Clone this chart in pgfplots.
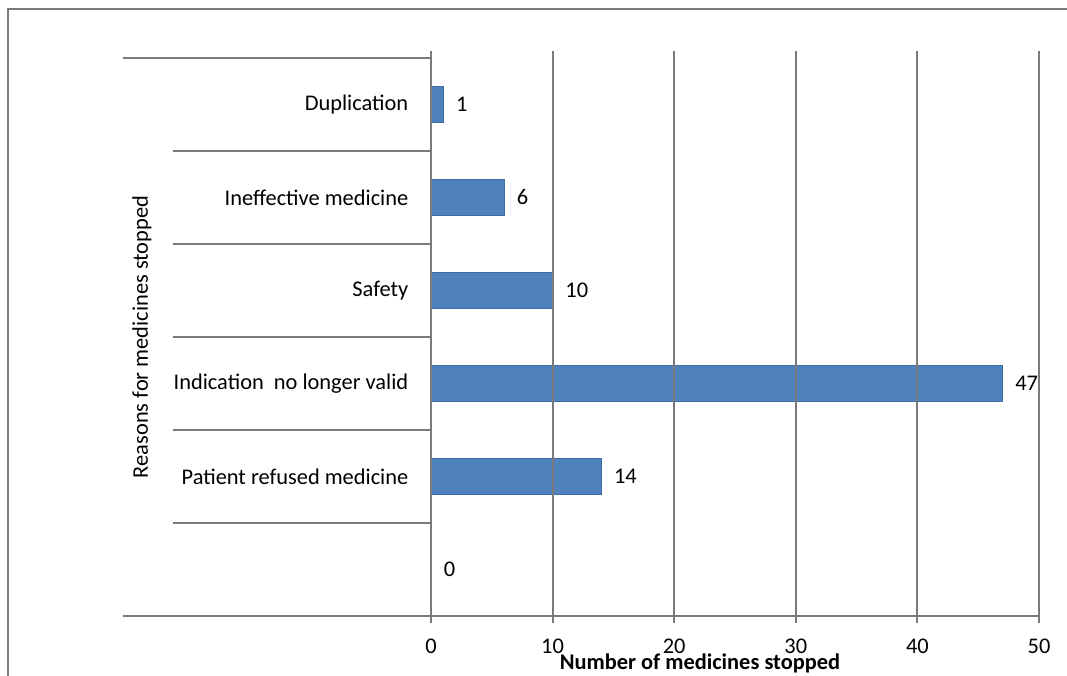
\documentclass[border=0pt]{standalone}
\usepackage{pgfplots}
\pgfplotsset{compat=1.18}
\usepackage{fontspec}
\setmainfont{Carlito}
\definecolor{barblue}{HTML}{4F81BD}
\definecolor{baredge}{HTML}{3C6DA6}
\definecolor{gridgray}{HTML}{7A7A7A}
\begin{document}
\begin{tikzpicture}
\path[use as bounding box] (0,0) rectangle (800.25pt,506.25pt);
\draw[gridgray, line width=1.5pt] (6pt,-1pt) -- (6pt,499.5pt) -- (801pt,499.5pt);
\begin{axis}[
  at={(323.25pt,44.25pt)}, anchor=south west,
  scale only axis, width=456pt, height=418.5pt,
  xbar, bar width=0.39,
  xmin=0, xmax=50, ymin=-0.5, ymax=5.5,
  xtick={0,10,20,30,40,50},
  ytick={0,1,2,3,4,5},
  yticklabels={{},Patient refused medicine,Indication\ \ no longer valid,Safety,Ineffective medicine,Duplication},
  axis line style={draw=none},
  xmajorgrids, grid style={gridgray, line width=1.5pt},
  xtick style={gridgray, line width=1.5pt},
  xtick align=outside, major tick length=5.5pt,
  y tick style={draw=none},
  axis on top,
  clip=false,
  font=\fontsize{16.8}{19}\selectfont,
  /pgf/number format/assume math mode=true,
  xticklabel style={yshift=-8pt},
  yticklabel style={xshift=-8pt},
  nodes near coords,
  every node near coord/.append style={xshift=6pt, black},
  xlabel={\textbf{Number of medicines stopped}},
  xlabel style={at={(axis description cs:0.4424,-0.0845)}, anchor=center},
  ylabel={Reasons for medicines stopped},
  ylabel style={at={(axis description cs:-0.4753,0.5)}, anchor=center},
]
\addplot[fill=barblue, draw=baredge, line width=0.6pt] coordinates {
  (0,0) (14,1) (47,2) (10,3) (6,4) (1,5)
};
\draw[gridgray, line width=1.5pt] (axis cs:50,-0.5) -- (axis cs:0,-0.5) -- ([xshift=-231pt]axis cs:0,-0.5);
\draw[gridgray, line width=1.5pt] (axis cs:0,5.5) -- ([xshift=-231pt]axis cs:0,5.5);
\draw[gridgray, line width=1.5pt] (axis cs:0,0.5) -- ([xshift=-193.5pt]axis cs:0,0.5);
\draw[gridgray, line width=1.5pt] (axis cs:0,1.5) -- ([xshift=-193.5pt]axis cs:0,1.5);
\draw[gridgray, line width=1.5pt] (axis cs:0,2.5) -- ([xshift=-193.5pt]axis cs:0,2.5);
\draw[gridgray, line width=1.5pt] (axis cs:0,3.5) -- ([xshift=-193.5pt]axis cs:0,3.5);
\draw[gridgray, line width=1.5pt] (axis cs:0,4.5) -- ([xshift=-193.5pt]axis cs:0,4.5);
\end{axis}
\end{tikzpicture}
\end{document}
